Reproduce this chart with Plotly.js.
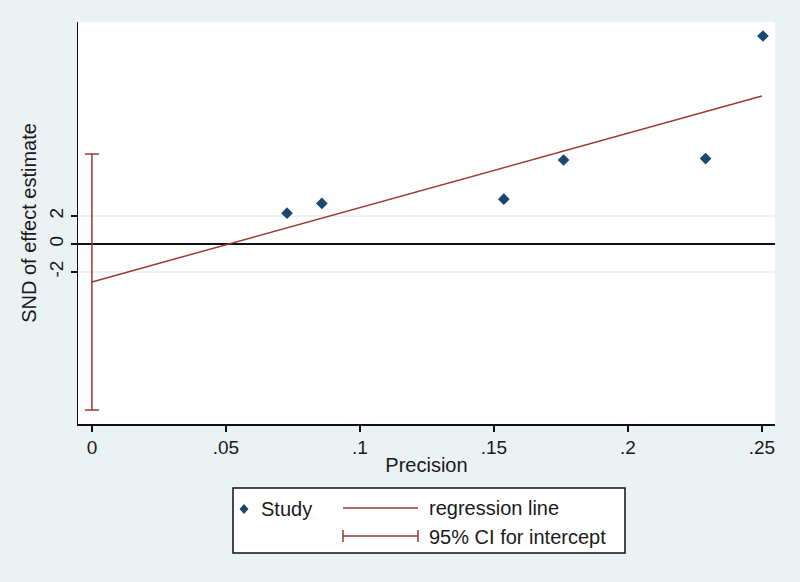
<!DOCTYPE html>
<html>
<head>
<meta charset="utf-8">
<script src="https://cdn.plot.ly/plotly-3.0.1.min.js"></script>
<style>
  html, body { margin: 0; padding: 0; background: #eaf2f3; }
  #plot { width: 800px; height: 582px; }
</style>
</head>
<body>
<div id="plot"></div>
<script>
// Galbraith / Egger style plot: SND vs precision
var precision = [0.0728, 0.0858, 0.1537, 0.176, 0.229, 0.2504];
var snd = [2.2, 2.9, 3.2, 6.0, 6.1, 14.86];

// regression line end points (precision, fitted SND)
var regX = [0, 0.25];
var regY = [-2.71, 10.57];

// 95% CI for intercept
var ciX = [0];
var ciMid = [-2.71];
var ciUpper = [6.43];
var ciLower = [-11.86];

var xTicks = [0, 0.05, 0.1, 0.15, 0.2, 0.25];
var xTickText = ['0', '.05', '.1', '.15', '.2', '.25'];
var yTicks = [-2, 0, 2];
var yTickText = ['-2', '0', '2'];

var navy = '#1a476f';
var maroon = '#9b3a30';
var bg = '#eaf2f3';
var ink = '#1a1a1a';
var fam = 'Liberation Sans, Arial, sans-serif';

var traces = [
  {
    x: ciX, y: ciMid, type: 'scatter', mode: 'markers',
    marker: {size: 1, color: 'rgba(0,0,0,0)'},
    error_y: {
      type: 'data', symmetric: false,
      array: [ciUpper[0] - ciMid[0]],
      arrayminus: [ciMid[0] - ciLower[0]],
      color: maroon, thickness: 1.5, width: 7
    },
    name: '95% CI for intercept', hoverinfo: 'skip'
  },
  {
    x: regX, y: regY, type: 'scatter', mode: 'lines',
    line: {color: maroon, width: 1.5},
    name: 'regression line'
  },
  {
    x: precision, y: snd, type: 'scatter', mode: 'markers',
    marker: {symbol: 'diamond', size: 9, color: navy},
    name: 'Study'
  }
];

// legend box built in paper coordinates
function px(v) { return (v - 78) / 697; }
function py(v) { return (424 - v) / 402; }

var shapes = [
  {type: 'rect', xref: 'paper', yref: 'paper',
   x0: px(233), x1: px(625), y0: py(553), y1: py(488),
   fillcolor: 'white', line: {color: '#111', width: 1.5}},
  {type: 'path', xref: 'paper', yref: 'paper',
   path: 'M ' + px(244) + ' ' + py(504) + ' L ' + px(248.5) + ' ' + py(509) +
         ' L ' + px(244) + ' ' + py(514) + ' L ' + px(239.5) + ' ' + py(509) + ' Z',
   fillcolor: navy, line: {color: navy, width: 0}},
  {type: 'line', xref: 'paper', yref: 'paper',
   x0: px(343), x1: px(418), y0: py(508), y1: py(508),
   line: {color: maroon, width: 1.5}},
  {type: 'line', xref: 'paper', yref: 'paper',
   x0: px(343), x1: px(418), y0: py(536), y1: py(536),
   line: {color: maroon, width: 1.5}},
  {type: 'line', xref: 'paper', yref: 'paper',
   x0: px(343), x1: px(343), y0: py(530), y1: py(542),
   line: {color: maroon, width: 1.5}},
  {type: 'line', xref: 'paper', yref: 'paper',
   x0: px(418), x1: px(418), y0: py(530), y1: py(542),
   line: {color: maroon, width: 1.5}}
];

var legendFont = {family: fam, size: 20, color: ink};
var annotations = [
  {xref: 'paper', yref: 'paper', x: px(259), y: py(509), xanchor: 'left', yanchor: 'middle',
   text: 'Study', showarrow: false, font: legendFont},
  {xref: 'paper', yref: 'paper', x: px(427), y: py(508), xanchor: 'left', yanchor: 'middle',
   text: 'regression line', showarrow: false, font: legendFont},
  {xref: 'paper', yref: 'paper', x: px(427), y: py(537), xanchor: 'left', yanchor: 'middle',
   text: '95% CI for intercept', showarrow: false, font: legendFont}
];

var layout = {
  width: 800, height: 582,
  paper_bgcolor: bg,
  plot_bgcolor: 'white',
  margin: {l: 78, r: 25, t: 22, b: 158},
  showlegend: false,
  font: {family: fam, size: 19, color: ink},
  xaxis: {
    range: [-0.0052, 0.2549],
    tickvals: xTicks, ticktext: xTickText,
    ticks: 'outside', ticklen: 6, tickcolor: '#111', tickwidth: 1.5,
    showline: true, linecolor: '#111', linewidth: 1.5,
    showgrid: false, zeroline: false,
    title: {text: 'Precision', standoff: 0, font: {size: 20}}
  },
  yaxis: {
    range: [-12.86, 15.86],
    tickvals: yTicks, ticktext: yTickText, tickangle: -90,
    ticks: 'outside', ticklen: 6, tickcolor: '#111', tickwidth: 1.5,
    showline: true, linecolor: '#111', linewidth: 1.5,
    showgrid: true, gridcolor: bg, gridwidth: 1.5,
    zeroline: true, zerolinecolor: '#111', zerolinewidth: 1.5,
    title: {text: 'SND of effect estimate', standoff: 4, font: {size: 20}}
  },
  shapes: shapes,
  annotations: annotations
};

Plotly.newPlot('plot', traces, layout, {displayModeBar: false, staticPlot: true});
</script>
</body>
</html>
